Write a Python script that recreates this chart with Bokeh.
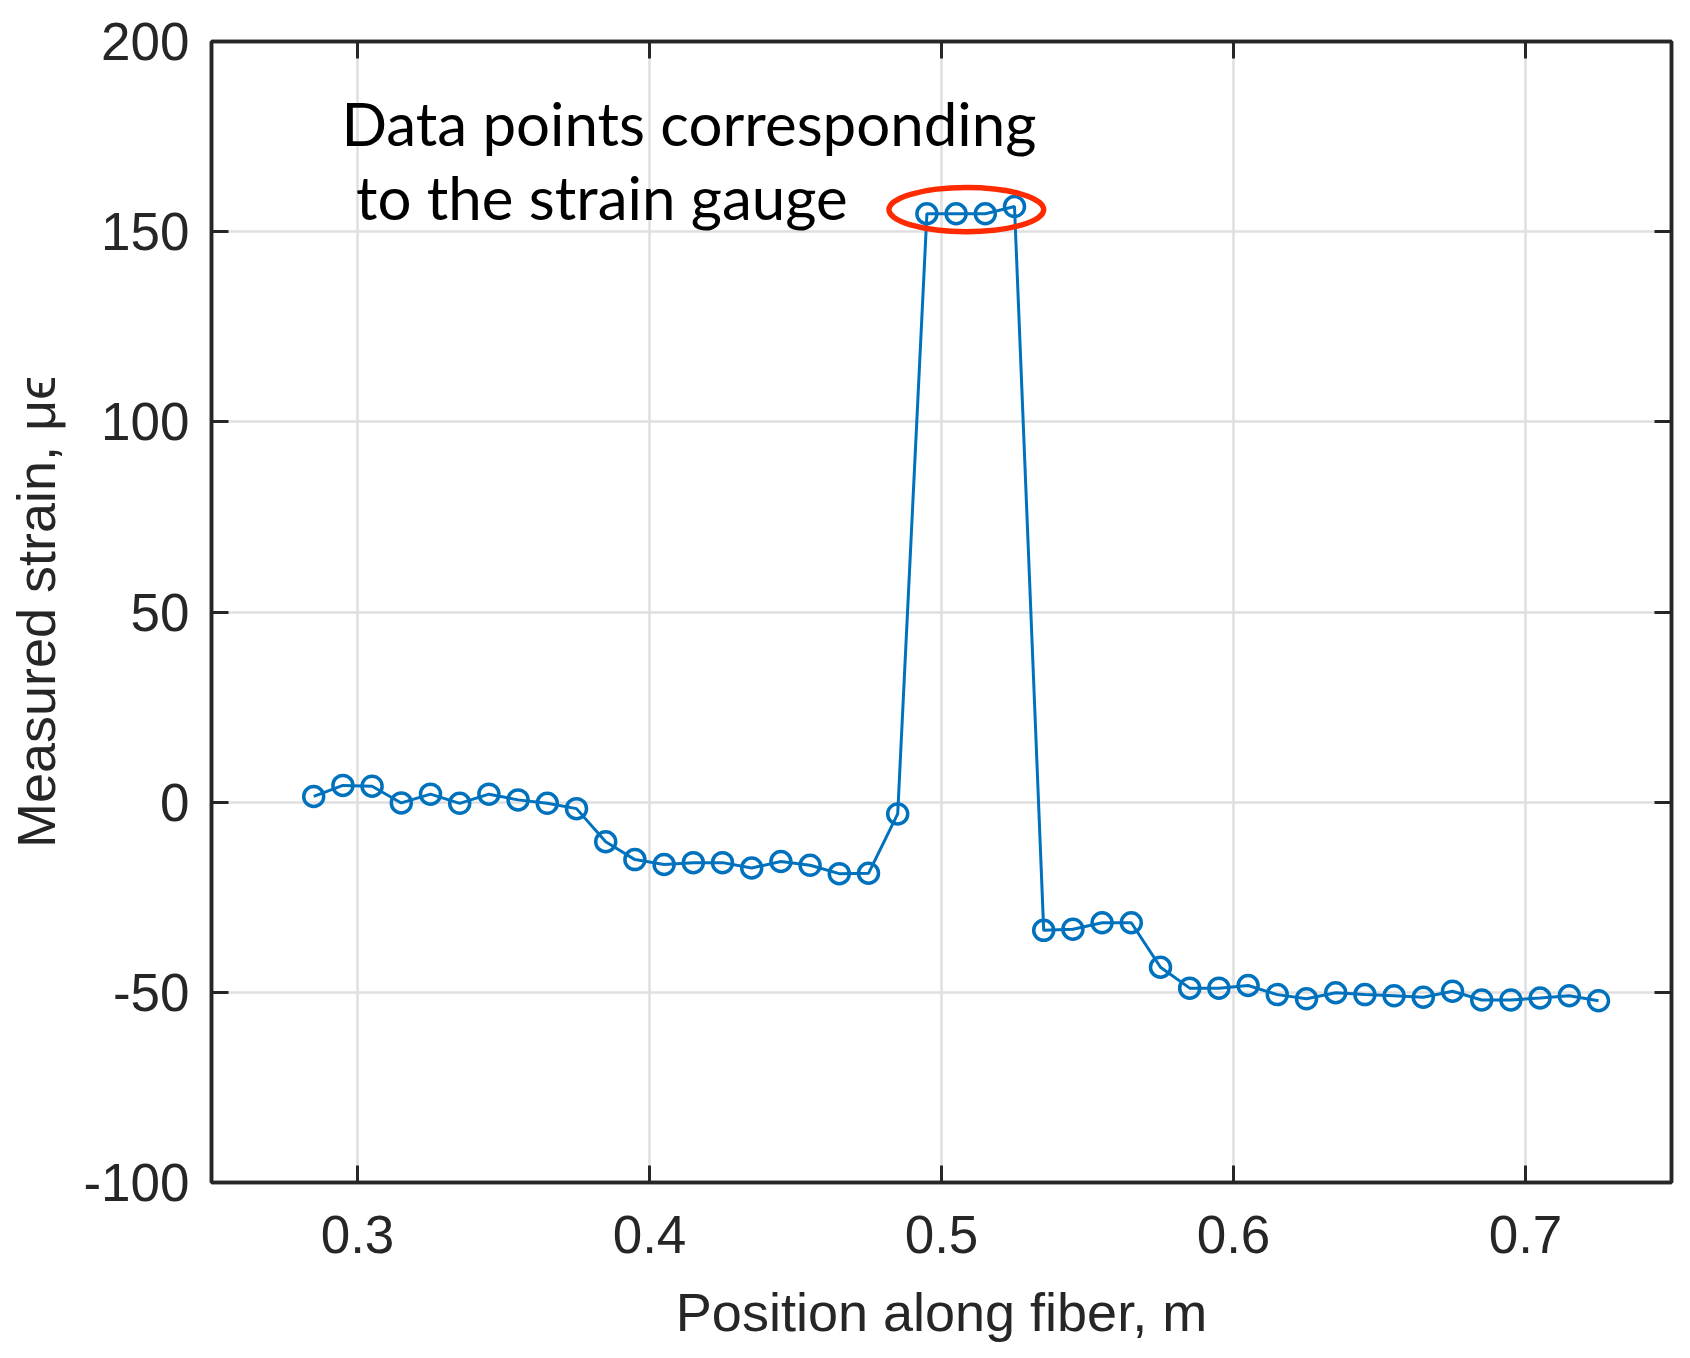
from bokeh.plotting import figure
from bokeh.models import Label, FixedTicker, LinearAxis, Range1d
from bokeh.embed import file_html
from bokeh.resources import INLINE

# ---- data ----
position_m = [0.285, 0.295, 0.305, 0.315, 0.325, 0.335, 0.345, 0.355, 0.365, 0.375,
              0.385, 0.395, 0.405, 0.415, 0.425, 0.435, 0.445, 0.455, 0.465, 0.475,
              0.485, 0.495, 0.505, 0.515, 0.525, 0.535, 0.545, 0.555, 0.565, 0.575,
              0.585, 0.595, 0.605, 0.615, 0.625, 0.635, 0.645, 0.655, 0.665, 0.675,
              0.685, 0.695, 0.705, 0.715, 0.725]
strain_ue = [1.5, 4.4, 4.2, -0.2, 2.1, -0.3, 2.1, 0.6, -0.3, -1.7,
             -10.4, -15.1, -16.4, -15.9, -15.9, -17.3, -15.6, -16.6, -18.8, -18.7,
             -3.1, 154.7, 154.7, 154.7, 156.6, -33.7, -33.4, -31.7, -31.7, -43.4,
             -48.9, -48.9, -48.2, -50.6, -51.7, -50.1, -50.6, -50.9, -51.3, -49.7,
             -52.0, -52.0, -51.5, -50.9, -52.2]

x_ticks = [0.3, 0.4, 0.5, 0.6, 0.7]
x_tick_labels = ["0.3", "0.4", "0.5", "0.6", "0.7"]
y_ticks = [-100, -50, 0, 50, 100, 150, 200]
y_tick_labels = ["-100", "-50", "0", "50", "100", "150", "200"]

annotation_lines = ["Data points corresponding", "to the strain gauge"]

# ---- styles ----
AX = "#262626"
BLUE = "#0072BD"
RED = "#FF2B00"
GRID = "#DFDFDF"
TICK_FONT = "Liberation Sans"

p = figure(frame_width=1460, frame_height=1141,
           x_range=Range1d(0.25, 0.75), y_range=Range1d(-100, 200),
           output_backend="svg", toolbar_location=None,
           min_border_left=211, min_border_top=41, min_border_right=11,
           min_border_bottom=150)
p.background_fill_color = "white"
p.border_fill_color = "white"
p.outline_line_color = AX
p.outline_line_width = 3.5

# grids
for g, t in ((p.xgrid, x_ticks), (p.ygrid, y_ticks)):
    g.ticker = FixedTicker(ticks=t)
    g.grid_line_color = GRID
    g.grid_line_width = 2.5

def style_axis(ax, ticks, labels, show_labels=True):
    ax.ticker = FixedTicker(ticks=ticks)
    ax.major_label_overrides = {t: (l if show_labels else "") for t, l in zip(ticks, labels)}
    ax.axis_line_color = AX
    ax.axis_line_width = 3.5
    ax.major_tick_line_color = AX
    ax.major_tick_line_width = 3
    ax.major_tick_in = 17
    ax.major_tick_out = 0
    ax.minor_tick_line_color = None
    ax.major_label_text_font = TICK_FONT
    ax.major_label_text_font_size = "53px"
    ax.major_label_text_color = AX

style_axis(p.xaxis[0], x_ticks, x_tick_labels)
style_axis(p.yaxis[0], y_ticks, y_tick_labels)
p.xaxis.major_label_standoff = 33
p.yaxis.major_label_standoff = 22

for ax, lab, standoff in ((p.xaxis, "Position along fiber, m", 26),
                          (p.yaxis, "Measured strain, μϵ", 14)):
    ax.axis_label = lab
    ax.axis_label_text_font = TICK_FONT
    ax.axis_label_text_font_size = "54px"
    ax.axis_label_text_font_style = "normal"
    ax.axis_label_text_color = AX
    ax.axis_label_standoff = standoff

# mirrored box ticks (top / right)
top_ax = LinearAxis()
right_ax = LinearAxis()
style_axis(top_ax, x_ticks, x_tick_labels, show_labels=False)
style_axis(right_ax, y_ticks, y_tick_labels, show_labels=False)
top_ax.major_label_standoff = 0
right_ax.major_label_standoff = 0
p.add_layout(top_ax, "above")
p.add_layout(right_ax, "right")

# data
p.line(position_m, strain_ue, line_color=BLUE, line_width=3)
p.scatter(position_m, strain_ue, marker="circle", size=20,
          line_color=BLUE, line_width=3.5, fill_color=None)

# ellipse around the strain gauge points
p.ellipse(x=[0.5085], y=[155.8], width=[0.053], height=[11.6],
          fill_color=None, line_color=RED, line_width=5.5)

# annotation text
p.add_layout(Label(x=0.2945, y=178.7, text=annotation_lines[0],
                   text_font="Lato", text_font_size="60px",
                   text_color="black", text_align="left", text_baseline="alphabetic"))
p.add_layout(Label(x=0.2995, y=159.1, text=annotation_lines[1],
                   text_font="Lato", text_font_size="60px",
                   text_color="black", text_align="left", text_baseline="alphabetic"))

open("out.html", "w").write(file_html(p, INLINE))
